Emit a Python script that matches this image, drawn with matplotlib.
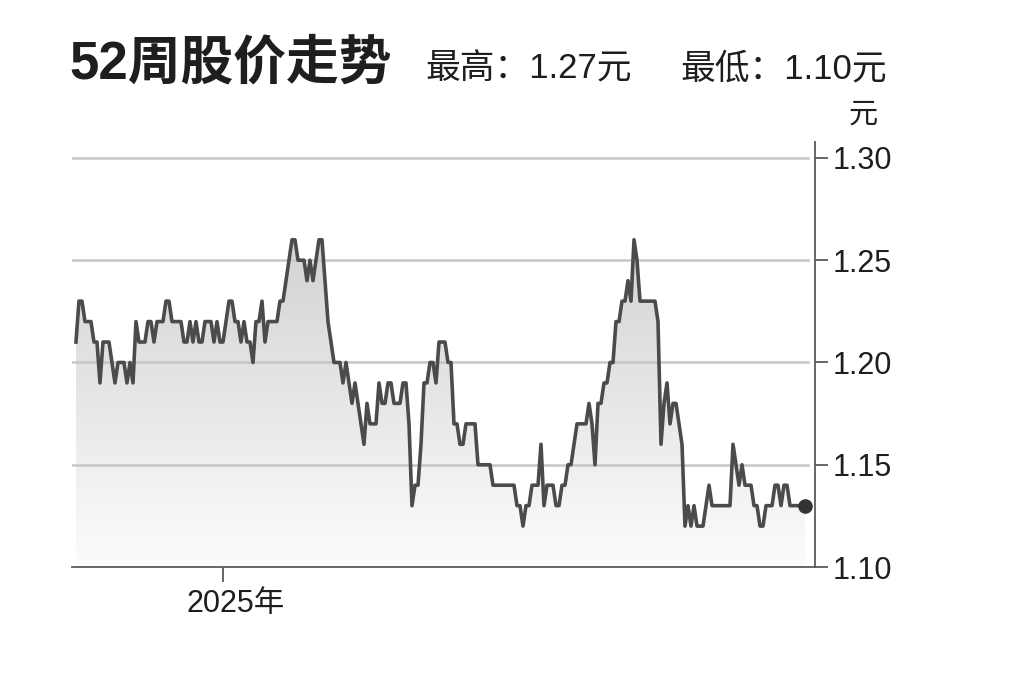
import numpy as np
import pandas as pd
import matplotlib
matplotlib.use('Agg')
import matplotlib.pyplot as plt
from matplotlib.colors import LinearSegmentedColormap
from matplotlib.transforms import ScaledTranslation

# daily close prices (yuan)
prices = [
    1.21, 1.23, 1.23, 1.22, 1.22, 1.22, 1.21, 1.21, 1.19, 1.21,
    1.21, 1.21, 1.20, 1.19, 1.20, 1.20, 1.20, 1.19, 1.20, 1.19,
    1.22, 1.21, 1.21, 1.21, 1.22, 1.22, 1.21, 1.22, 1.22, 1.22,
    1.23, 1.23, 1.22, 1.22, 1.22, 1.22, 1.21, 1.21, 1.22, 1.21,
    1.22, 1.21, 1.21, 1.22, 1.22, 1.22, 1.21, 1.22, 1.21, 1.21,
    1.22, 1.23, 1.23, 1.22, 1.22, 1.21, 1.22, 1.21, 1.21, 1.20,
    1.22, 1.22, 1.23, 1.21, 1.22, 1.22, 1.22, 1.22, 1.23, 1.23,
    1.24, 1.25, 1.26, 1.26, 1.25, 1.25, 1.25, 1.24, 1.25, 1.24,
    1.25, 1.26, 1.26, 1.24, 1.22, 1.21, 1.20, 1.20, 1.20, 1.19,
    1.20, 1.19, 1.18, 1.19, 1.18, 1.17, 1.16, 1.18, 1.17, 1.17,
    1.17, 1.19, 1.18, 1.18, 1.19, 1.19, 1.18, 1.18, 1.18, 1.19,
    1.19, 1.17, 1.13, 1.14, 1.14, 1.16, 1.19, 1.19, 1.20, 1.20,
    1.19, 1.21, 1.21, 1.21, 1.20, 1.20, 1.17, 1.17, 1.16, 1.16,
    1.17, 1.17, 1.17, 1.17, 1.15, 1.15, 1.15, 1.15, 1.15, 1.14,
    1.14, 1.14, 1.14, 1.14, 1.14, 1.14, 1.14, 1.13, 1.13, 1.12,
    1.13, 1.13, 1.14, 1.14, 1.14, 1.16, 1.13, 1.14, 1.14, 1.14,
    1.13, 1.13, 1.14, 1.14, 1.15, 1.15, 1.16, 1.17, 1.17, 1.17,
    1.17, 1.18, 1.17, 1.15, 1.18, 1.18, 1.19, 1.19, 1.20, 1.20,
    1.22, 1.22, 1.23, 1.23, 1.24, 1.23, 1.26, 1.25, 1.23, 1.23,
    1.23, 1.23, 1.23, 1.23, 1.22, 1.16, 1.18, 1.19, 1.17, 1.18,
    1.18, 1.17, 1.16, 1.12, 1.13, 1.12, 1.13, 1.12, 1.12, 1.12,
    1.13, 1.14, 1.13, 1.13, 1.13, 1.13, 1.13, 1.13, 1.13, 1.16,
    1.15, 1.14, 1.15, 1.14, 1.14, 1.14, 1.13, 1.13, 1.12, 1.12,
    1.13, 1.13, 1.13, 1.14, 1.14, 1.13, 1.14, 1.14, 1.13, 1.13,
    1.13, 1.13, 1.13, 1.13,
]
start_date = '2024-10-24'
y_ticks = [1.10, 1.15, 1.20, 1.25, 1.30]
grid_levels = [1.15, 1.20, 1.25, 1.30]
title = '52周股价走势'
high_label = '最高：1.27元'
low_label = '最低：1.10元'
unit = '元'

FONTS = ['Liberation Sans', 'Noto Sans CJK SC', 'DejaVu Sans']
TEXT = '#1e1e1e'
AXIS = '#5a5a5a'


def main() -> None:
    plt.rcParams['font.family'] = FONTS
    dates = pd.bdate_range(start_date, periods=len(prices))
    x = np.arange(len(prices))
    y = np.array(prices)

    fig = plt.figure(figsize=(10.24, 6.82), dpi=100)
    ax = fig.add_axes([0.0703, 0.1686, 0.7256, 0.6232])

    # gradient fill under the line
    cmap = LinearSegmentedColormap.from_list('fade', ['#fcfcfc', '#d0d0d0'])
    grad = np.linspace(0, 1, 256).reshape(-1, 1)
    im = ax.imshow(grad, extent=[x[0], x[-1], 1.10, 1.27], origin='lower',
                   cmap=cmap, aspect='auto', zorder=1)
    area = ax.fill_between(x, y, 1.10, color='none', lw=0)
    im.set_clip_path(area.get_paths()[0], ax.transData)

    for level in grid_levels:
        ax.axhline(level, xmin=0, xmax=0.99, color='#c6c6c6', lw=1.8, zorder=2)

    ax.plot(x, y, color='#4b4b4b', lw=2.6, zorder=3)
    ax.plot(x[-1], y[-1], 'o', ms=9.5, color='#333333', zorder=4)

    ax.set_xlim(-1.33, len(prices) - 1 + 3.33)
    ax.set_ylim(1.10, 1.3078)

    for side in ('left', 'top'):
        ax.spines[side].set_visible(False)
    for side in ('right', 'bottom'):
        ax.spines[side].set_color(AXIS)
        ax.spines[side].set_linewidth(1.3)

    ax.yaxis.tick_right()
    ax.set_yticks(y_ticks)
    ax.set_yticklabels([f'{v:.2f}' for v in y_ticks])
    ax.tick_params(axis='y', length=9.5, width=1.3, color=AXIS, pad=3,
                   labelsize=22, labelcolor=TEXT)

    year_idx = int(np.argmax(dates.year == 2025))
    ax.set_xticks([year_idx])
    ax.set_xticklabels([f'{dates[year_idx].year}年'])
    ax.tick_params(axis='x', length=11, width=1.3, color=AXIS, pad=5,
                   labelsize=22, labelcolor=TEXT)
    shift = ScaledTranslation(13 / 100, 0, fig.dpi_scale_trans)
    for lab in ax.get_xticklabels():
        lab.set_transform(lab.get_transform() + shift)

    ax.text(1.0646, 1.0635, unit, transform=ax.transAxes, ha='center',
            va='center', fontsize=21, color=TEXT)

    fig.text(0.0674, 0.8856, title, fontsize=38, fontweight='bold',
             color=TEXT, va='baseline')
    fig.text(0.415, 0.8856, high_label, fontsize=25, color=TEXT, va='baseline')
    fig.text(0.664, 0.8856, low_label, fontsize=25, color=TEXT, va='baseline')

    fig.savefig('out.png', dpi=100, facecolor='white')


if __name__ == '__main__':
    main()
